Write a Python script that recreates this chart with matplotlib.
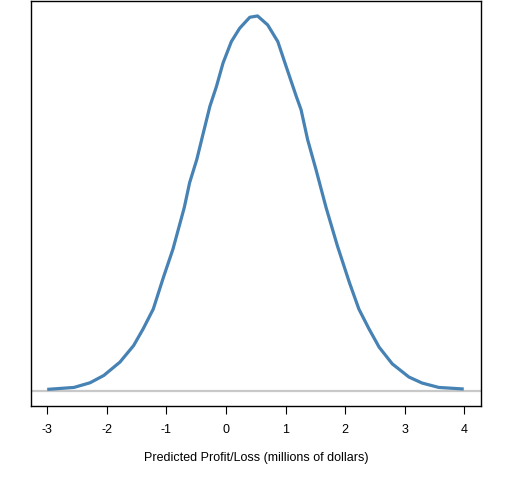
import matplotlib
matplotlib.use("Agg")
import matplotlib.pyplot as plt

# Values (predicted profit/loss density)
profit_x = [-3.00, -2.55, -2.28, -2.05, -1.78, -1.55, -1.39, -1.22, -1.05, -0.89,
            -0.70, -0.61, -0.49, -0.38, -0.27, -0.16, -0.05, 0.09, 0.23, 0.40,
            0.53, 0.70, 0.87, 1.01, 1.18, 1.26, 1.37, 1.51, 1.68, 1.87,
            2.07, 2.23, 2.40, 2.57, 2.79, 3.07, 3.29, 3.57, 3.99]
density_y = [0.0014, 0.0035, 0.0085, 0.0163, 0.0305, 0.0482, 0.0660, 0.0872, 0.1210, 0.1511,
             0.1955, 0.2221, 0.2468, 0.2753, 0.3036, 0.3248, 0.3497, 0.3727, 0.3870, 0.3987,
             0.4001, 0.3905, 0.3727, 0.3461, 0.3142, 0.3000, 0.2681, 0.2362, 0.1955, 0.1546,
             0.1157, 0.0872, 0.0660, 0.0465, 0.0287, 0.0146, 0.0082, 0.0035, 0.0018]
tick_values = [-3, -2, -1, 0, 1, 2, 3, 4]
tick_labels = ["-3", "-2", "-1", "0", "1", "2", "3", "4"]
x_label = "Predicted Profit/Loss (millions of dollars)"

plt.rcParams['font.family'] = ['Liberation Sans', 'DejaVu Sans']

fig = plt.figure(figsize=(5.12, 4.8), dpi=100)
ax = fig.add_axes([0.0596, 0.1548, 0.8799, 0.8432])

ax.axhline(0, color="#C8C8C8", lw=1.6, zorder=1)
ax.plot(profit_x, density_y, color="#4682B4", lw=2.3, solid_joinstyle="round",
        solid_capstyle="butt", zorder=2)

xmin, xmax = min(tick_values), max(tick_values)
xr = xmax - xmin
ax.set_xlim(xmin - 0.04 * xr, xmax + 0.04 * xr)
ymax = max(density_y)
ax.set_ylim(-0.04 * ymax, ymax * 1.04)

ax.set_xticks(tick_values)
ax.set_xticklabels(tick_labels, fontsize=9)
ax.set_yticks([])
ax.tick_params(axis="x", direction="out", length=5.5, width=0.8, pad=7.5, colors="black")
for s in ax.spines.values():
    s.set_linewidth(1.0)
    s.set_color("black")
ax.set_xlabel(x_label, fontsize=9, labelpad=11.5)

fig.savefig("out.png", dpi=100)
